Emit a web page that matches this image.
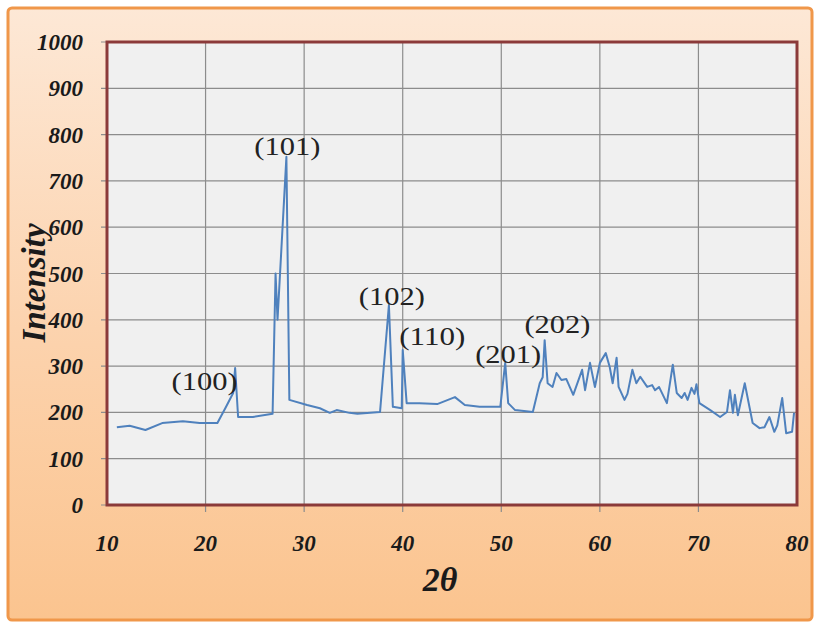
<!DOCTYPE html>
<html>
<head>
<meta charset="utf-8">
<script src="https://cdn.jsdelivr.net/npm/d3@7"></script>
<style>
  body { margin: 0; background: #fff; }
  svg { display: block; }
</style>
</head>
<body>
<div id="chart"></div>
<script>
const width = 820;
const height = 626;
const margin = { top: 42, right: 23, bottom: 121, left: 107 };

// 2-theta positions and intensity
const twoTheta = [
  11.0, 12.3, 13.9, 15.6, 17.7, 19.4, 21.2, 22.0, 22.8, 23.0, 23.3, 24.8, 26.8,
  27.1, 27.3, 28.2, 28.5, 30.3, 31.6, 32.6, 33.3, 34.6, 35.4, 37.7, 38.6, 39.0,
  39.9, 40.0, 40.4, 41.7, 43.5, 45.3, 46.3, 47.8, 49.9, 50.4, 50.7, 51.4, 53.2,
  53.9, 54.2, 54.4, 54.7, 55.2, 55.6, 56.1, 56.6, 57.3, 58.2, 58.5, 59.0, 59.5,
  60.0, 60.6, 61.0, 61.3, 61.7, 61.9, 62.5, 62.8, 63.3, 63.7, 64.1, 64.8, 65.3,
  65.6, 66.0, 66.8, 67.4, 67.8, 68.3, 68.6, 68.9, 69.3, 69.6, 69.8, 70.1, 71.2,
  72.2, 72.9, 73.2, 73.5, 73.7, 74.0, 74.7, 75.5, 76.2, 76.7, 77.2, 77.7, 78.0,
  78.5, 78.9, 79.5, 79.7
];
const intensity = [
  168, 171, 162, 177, 181, 177, 177, 209, 242, 296, 190, 190, 197,
  500, 400, 752, 227, 216, 209, 199, 205, 199, 197, 201, 432, 212,
  209, 335, 220, 220, 218, 233, 216, 212, 212, 307, 220, 205, 201,
  263, 276, 356, 263, 255, 285, 270, 272, 238, 292, 248, 307, 255,
  307, 328, 298, 263, 318, 255, 227, 240, 292, 263, 277, 255, 259,
  248, 255, 220, 303, 242, 231, 242, 227, 253, 240, 261, 220, 205,
  190, 201, 248, 199, 238, 194, 263, 177, 166, 168, 190, 158, 172,
  231, 155, 158, 199
];

// peak labels (Miller indices) and where they sit
const peakNames = ["(100)", "(101)", "(102)", "(110)", "(201)", "(202)"];
const peakX = [19.9, 28.3, 38.9, 43.0, 50.7, 55.7];
const peakY = [248, 756, 432, 346, 307, 371];

const xTicks = [10, 20, 30, 40, 50, 60, 70, 80];
const yTicks = [0, 100, 200, 300, 400, 500, 600, 700, 800, 900, 1000];

const svg = d3
  .select("#chart")
  .append("svg")
  .attr("width", width)
  .attr("height", height);

const defs = svg.append("defs");
const grad = defs
  .append("linearGradient")
  .attr("id", "bg")
  .attr("x1", 0)
  .attr("y1", 0)
  .attr("x2", 0)
  .attr("y2", 1);
grad.append("stop").attr("offset", "0%").attr("stop-color", "#fde8d6");
grad.append("stop").attr("offset", "55%").attr("stop-color", "#fcd2ac");
grad.append("stop").attr("offset", "100%").attr("stop-color", "#fbc48f");

// outer frame
svg
  .append("rect")
  .attr("x", 8)
  .attr("y", 8)
  .attr("width", 804)
  .attr("height", 612)
  .attr("rx", 4)
  .attr("fill", "url(#bg)")
  .attr("stroke", "#f0974a")
  .attr("stroke-width", 3);

const xScale = d3
  .scaleLinear()
  .domain([10, 80])
  .range([margin.left, width - margin.right]);

const yScale = d3
  .scaleLinear()
  .domain([0, 1000])
  .range([height - margin.bottom, margin.top]);

// plot area
svg
  .append("rect")
  .attr("x", xScale(10))
  .attr("y", yScale(1000))
  .attr("width", xScale(80) - xScale(10))
  .attr("height", yScale(0) - yScale(1000))
  .attr("fill", "#f0f0f0");

// grid lines
svg
  .append("g")
  .selectAll("line")
  .data(yTicks.slice(1, -1))
  .enter()
  .append("line")
  .attr("x1", xScale(10) - 6)
  .attr("x2", xScale(80))
  .attr("y1", (d) => yScale(d))
  .attr("y2", (d) => yScale(d))
  .attr("stroke", "#8c8c8c")
  .attr("stroke-width", 1.2);

svg
  .append("g")
  .selectAll("line")
  .data(xTicks.slice(1, -1))
  .enter()
  .append("line")
  .attr("x1", (d) => xScale(d))
  .attr("x2", (d) => xScale(d))
  .attr("y1", yScale(1000))
  .attr("y2", yScale(0) + 7)
  .attr("stroke", "#8c8c8c")
  .attr("stroke-width", 1.2);

// small outside ticks at the ends
svg
  .append("g")
  .selectAll("line")
  .data([0, 1000])
  .enter()
  .append("line")
  .attr("x1", xScale(10) - 6)
  .attr("x2", xScale(10))
  .attr("y1", (d) => yScale(d))
  .attr("y2", (d) => yScale(d))
  .attr("stroke", "#8c8c8c");

// the pattern
const points = twoTheta.map((t, i) => [t, intensity[i]]);
const line = d3
  .line()
  .x((d) => xScale(d[0]))
  .y((d) => yScale(d[1]));

svg
  .append("path")
  .datum(points)
  .attr("d", line)
  .attr("fill", "none")
  .attr("stroke", "#4f81bd")
  .attr("stroke-width", 2)
  .attr("stroke-linejoin", "round");

// plot border
svg
  .append("rect")
  .attr("x", xScale(10))
  .attr("y", yScale(1000))
  .attr("width", xScale(80) - xScale(10))
  .attr("height", yScale(0) - yScale(1000))
  .attr("fill", "none")
  .attr("stroke", "#8b3a3a")
  .attr("stroke-width", 3);

// axes labels
const tickFont = "'Liberation Serif', 'DejaVu Serif', serif";

svg
  .append("g")
  .selectAll("text")
  .data(yTicks)
  .enter()
  .append("text")
  .attr("x", xScale(10) - 24)
  .attr("y", (d) => yScale(d) + 8)
  .attr("text-anchor", "end")
  .attr("font-family", tickFont)
  .attr("font-style", "italic")
  .attr("font-weight", "bold")
  .attr("font-size", 23)
  .attr("fill", "#1a1a1a")
  .text((d) => d);

svg
  .append("g")
  .selectAll("text")
  .data(xTicks)
  .enter()
  .append("text")
  .attr("x", (d) => xScale(d))
  .attr("y", yScale(0) + 46)
  .attr("text-anchor", "middle")
  .attr("font-family", tickFont)
  .attr("font-style", "italic")
  .attr("font-weight", "bold")
  .attr("font-size", 23)
  .attr("fill", "#1a1a1a")
  .text((d) => d);

svg
  .append("text")
  .attr("x", 440)
  .attr("y", 591)
  .attr("text-anchor", "middle")
  .attr("font-family", tickFont)
  .attr("font-style", "italic")
  .attr("font-weight", "bold")
  .attr("font-size", 34)
  .attr("fill", "#1a1a1a")
  .text("2θ");

svg
  .append("text")
  .attr("transform", "translate(45," + 283 + ") rotate(-90)")
  .attr("text-anchor", "middle")
  .attr("font-family", tickFont)
  .attr("font-style", "italic")
  .attr("font-weight", "bold")
  .attr("font-size", 33)
  .attr("fill", "#1a1a1a")
  .text("Intensity");

// peak annotations
svg
  .append("g")
  .selectAll("text")
  .data(peakNames)
  .enter()
  .append("text")
  .attr("x", (d, i) => xScale(peakX[i]))
  .attr("y", (d, i) => yScale(peakY[i]))
  .attr("text-anchor", "middle")
  .attr("font-family", tickFont)
  .attr("font-size", 26)
  .attr("textLength", 66)
  .attr("lengthAdjust", "spacingAndGlyphs")
  .attr("fill", "#222")
  .text((d) => d);
</script>
</body>
</html>
